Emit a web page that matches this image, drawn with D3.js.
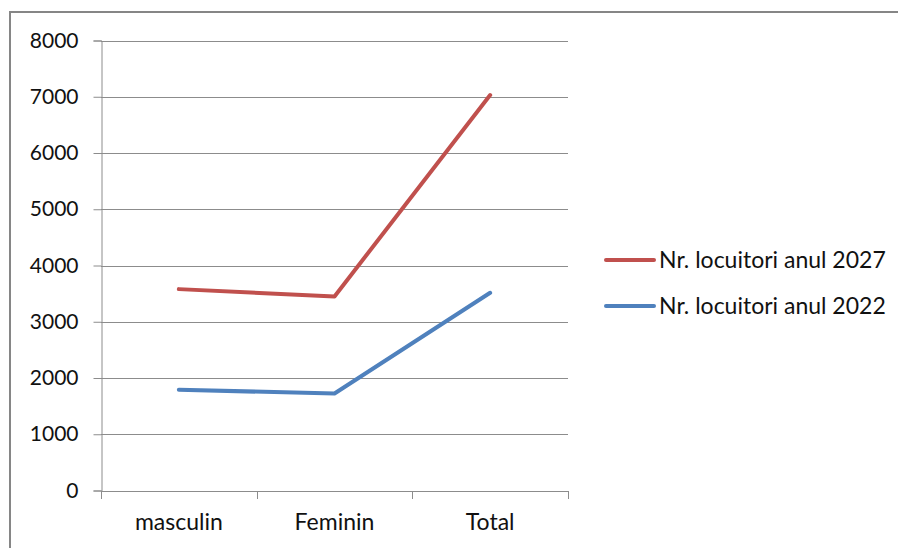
<!DOCTYPE html>
<html>
<head>
<meta charset="utf-8">
<script src="https://cdn.jsdelivr.net/npm/d3@7"></script>
<style>
  html, body { margin: 0; padding: 0; background: #fff; }
  svg { display: block; }
  text { font-family: Lato, "Open Sans", sans-serif; fill: #111; }
</style>
</head>
<body>
<svg id="chart" width="898" height="548"></svg>
<script>
const categories = ["masculin", "Feminin", "Total"];
const series2027 = [3580, 3450, 7030];
const series2022 = [1790, 1725, 3515];
const seriesNames = ["Nr. locuitori anul 2027", "Nr. locuitori anul 2022"];
const yTicks = [0, 1000, 2000, 3000, 4000, 5000, 6000, 7000, 8000];

const seriesList = [
  { name: seriesNames[0], values: series2027, color: "#C0504D" },
  { name: seriesNames[1], values: series2022, color: "#4F81BD" }
];

const svg = d3.select("#chart");
const yFont = 21, catFont = 23, legFont = 23;

// outer chart border
svg.append("rect")
  .attr("x", 10).attr("y", 12)
  .attr("width", 898).attr("height", 548)
  .attr("fill", "none").attr("stroke", "#868686").attr("stroke-width", 2);

const x0 = 101, x1 = 568, yTop = 40.5, yBot = 490.5;

const x = d3.scaleBand().domain(categories).range([x0, x1]).padding(0);
const y = d3.scaleLinear().domain([0, 8000]).range([yBot, yTop]);

// gridlines
svg.append("g").selectAll("line").data(yTicks.filter(d => d > 0)).join("line")
  .attr("x1", x0).attr("x2", x1)
  .attr("y1", d => Math.round(y(d)) + 0.5).attr("y2", d => Math.round(y(d)) + 0.5)
  .attr("stroke", "#8c8c8c").attr("stroke-width", 1);

// y axis
const yAxis = svg.append("g").attr("transform", `translate(${x0 + 0.5},0)`)
  .call(d3.axisLeft(y).tickValues(yTicks).tickSize(8).tickPadding(15).tickFormat(d3.format("d")));
yAxis.select(".domain").attr("stroke", "#8c8c8c");
yAxis.selectAll(".tick line").attr("stroke", "#8c8c8c");
yAxis.selectAll(".tick text").attr("font-size", yFont).attr("font-family", "Lato, sans-serif").attr("fill", "#111");

// x axis
const xAxis = svg.append("g").attr("transform", `translate(0,${yBot + 0.5})`)
  .call(d3.axisBottom(x).tickSize(0).tickPadding(0));
xAxis.select(".domain").attr("stroke", "#8c8c8c");
xAxis.selectAll(".tick text").attr("font-size", catFont).attr("font-family", "Lato, sans-serif")
  .attr("fill", "#111").attr("dy", 0).attr("y", 39);
// category boundary ticks
const bounds = categories.map(c => x(c)).concat([x1]);
xAxis.append("g").selectAll("line").data(bounds).join("line")
  .attr("x1", d => Math.round(d) + 0.5).attr("x2", d => Math.round(d) + 0.5)
  .attr("y1", 0).attr("y2", 8).attr("stroke", "#8c8c8c");

const cx = c => x(c) + x.bandwidth() / 2;
const line = d3.line().x((d, i) => cx(categories[i])).y(d => y(d));

svg.append("g").selectAll("path").data(seriesList).join("path")
  .attr("d", d => line(d.values))
  .attr("fill", "none").attr("stroke", d => d.color)
  .attr("stroke-width", 4).attr("stroke-linecap", "round").attr("stroke-linejoin", "round");

// legend
const legend = svg.append("g");
const ly = [260, 306];
seriesList.forEach((s, i) => {
  legend.append("line").attr("x1", 606).attr("x2", 654).attr("y1", ly[i]).attr("y2", ly[i])
    .attr("stroke", s.color).attr("stroke-width", 4).attr("stroke-linecap", "round");
  legend.append("text").attr("x", 659).attr("y", ly[i]).attr("dy", "0.35em")
    .attr("font-size", legFont).text(s.name);
});
</script>
</body>
</html>
